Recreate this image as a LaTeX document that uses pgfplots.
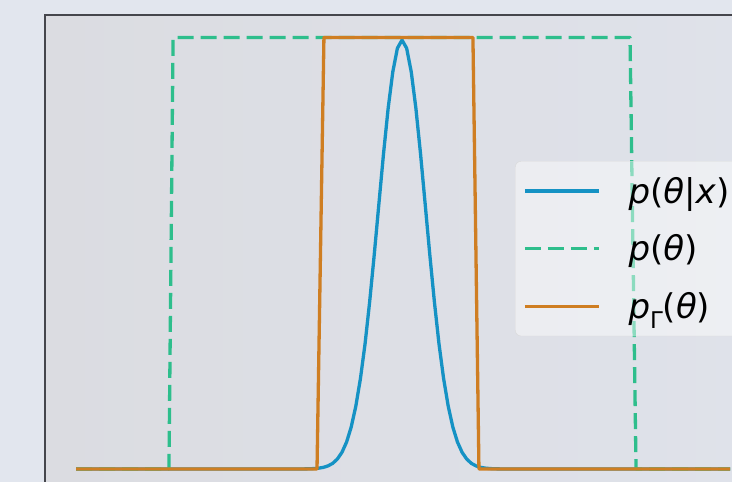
\documentclass[border=0pt]{standalone}
\usepackage{fontspec}
\setmainfont{DejaVu Sans}
\usepackage{pgfplots}
\pgfplotsset{compat=1.18}
\definecolor{cblue}{HTML}{1592C4}
\definecolor{corange}{HTML}{CF7E22}
\definecolor{cgreen}{HTML}{2EBE8C}
\definecolor{bgout}{HTML}{E2E6EE}
\definecolor{bgleft}{HTML}{DBDCE1}
\definecolor{bgright}{HTML}{DFE2EA}
\definecolor{frame}{HTML}{45464C}
\begin{document}
\begin{tikzpicture}
\useasboundingbox (0,0) rectangle (732pt,482pt);
\fill[bgout] (0,0) rectangle (732pt,482pt);
\clip (0,0) rectangle (732pt,482pt);
\begin{axis}[
  at={(45pt,467pt)}, anchor=north west,
  scale only axis, width=710pt, height=475pt,
  xmin=-1.5455, xmax=1.528, ymin=-0.0487, ymax=1.052,
  xtick=\empty, ytick=\empty,
  axis line style={frame, line width=2.6pt},
  axis background/.style={left color=bgleft, right color=bgright},
  legend style={at={(0.662,0.6926)}, anchor=north west,
    font=\fontsize{34}{39}\selectfont,
    draw=black!15, fill=white, fill opacity=0.45, text opacity=1,
    rounded corners=6pt, inner xsep=8pt, inner ysep=14pt,
    row sep=26pt},
  /tikz/every odd column/.append style={column sep=26pt},
  legend cell align=left,
  legend image code/.code={\draw[#1] (0pt,0pt) -- (74pt,0pt);},
  every axis plot/.append style={line width=3.3pt, line join=round},
]
\addplot[cblue] coordinates {
(-1.411,0) (-0.46,0) (-0.44,0.0001) (-0.42,0.0002) (-0.40,0.0004) (-0.38,0.001) (-0.36,0.002) (-0.34,0.0038)
(-0.32,0.0072) (-0.30,0.0131) (-0.28,0.0230) (-0.26,0.0386) (-0.24,0.0624)
(-0.22,0.0971) (-0.20,0.1454) (-0.18,0.2095) (-0.16,0.290) (-0.14,0.388)
(-0.12,0.498) (-0.10,0.615) (-0.08,0.731) (-0.06,0.836) (-0.04,0.920)
(-0.02,0.975) (0,0.994) (0.02,0.975) (0.04,0.920) (0.06,0.836) (0.08,0.731)
(0.10,0.615) (0.12,0.498) (0.14,0.388) (0.16,0.290) (0.18,0.2095)
(0.20,0.1454) (0.22,0.0971) (0.24,0.0624) (0.26,0.0386) (0.28,0.0230)
(0.30,0.0131) (0.32,0.0072) (0.34,0.0038) (0.36,0.002) (0.38,0.001) (0.40,0.0004)
(0.42,0.0002) (0.44,0.0001) (0.46,0) (1.42,0)
};
\addlegendentry{\textit{p}(\textit{θ}|\textit{x})}
\addplot[cgreen, dash pattern=on 16pt off 7pt, line cap=butt] coordinates {
(-1.411,0) (-1.009,0) (-0.991,1) (0.987,1) (1.013,0) (1.42,0)
};
\addlegendentry{\textit{p}(\textit{θ})}
\addplot[corange] coordinates {
(-1.411,0) (-0.368,0) (-0.338,1) (0.307,1) (0.333,0) (1.42,0)
};
\addlegendentry{\textit{p}\raisebox{-0.28em}{\fontsize{23}{23}\selectfont Γ}(\textit{θ})}
\end{axis}
\end{tikzpicture}
\end{document}
